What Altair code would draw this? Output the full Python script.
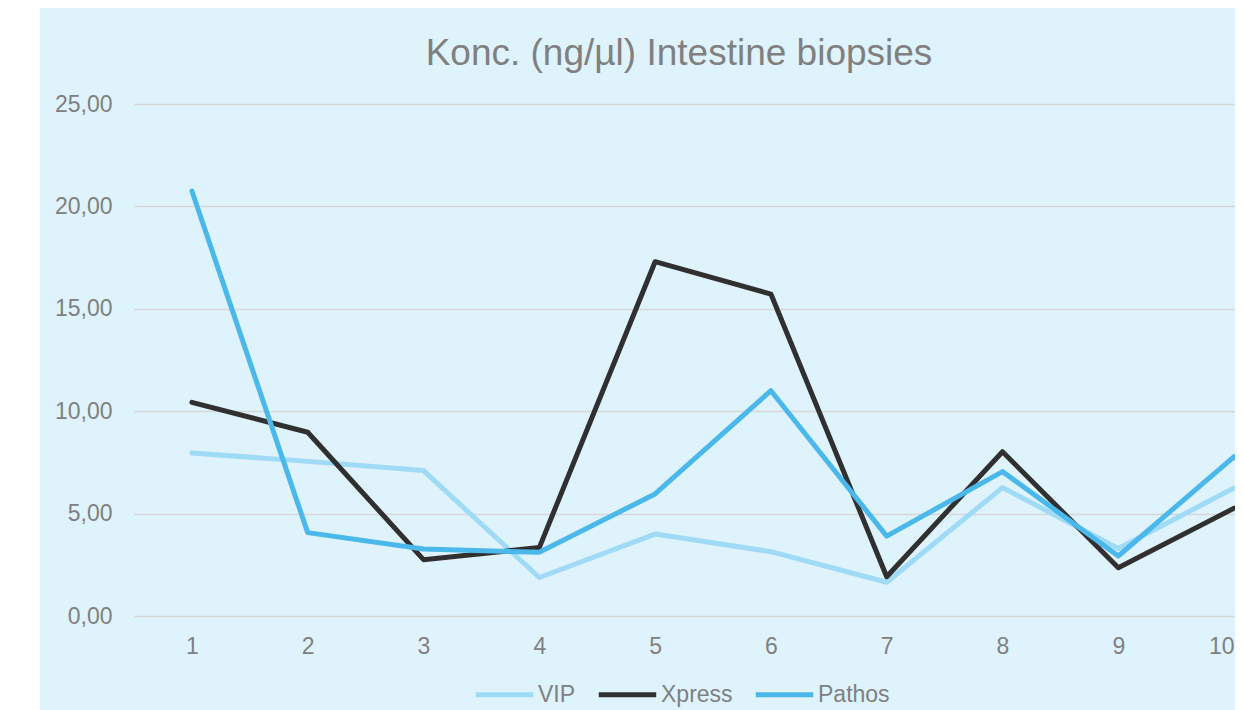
import altair as alt
import pandas as pd

samples = [1, 2, 3, 4, 5, 6, 7, 8, 9, 10]
series_names = ["VIP", "Xpress", "Pathos"]
vip = [7.96, 7.55, 7.10, 1.88, 4.00, 3.14, 1.65, 6.27, 3.30, 6.25]
xpress = [10.43, 8.97, 2.75, 3.34, 17.30, 15.72, 1.92, 8.02, 2.36, 5.26]
pathos = [20.75, 4.07, 3.27, 3.11, 5.96, 11.00, 3.90, 7.05, 2.93, 7.78]
y_ticks = [0, 5, 10, 15, 20, 25]
colors = ["#9fdaf6", "#303030", "#4bb8ec"]

rows = []
for name, vals in zip(series_names, [vip, xpress, pathos]):
    for s, v in zip(samples, vals):
        rows.append({"Sample": s, "Series": name, "Konc": v})
df = pd.DataFrame(rows)

W = 1101
H = 512
PAD_L = 126
PAD_T = 96
SVG_H = 702
PAD_B = SVG_H - PAD_T - H
BG = "#dff3fd"
TXT = "#808080"
FONT = "Liberation Sans"

# white band at the left edge (outside the chart area of the reference)
band = alt.Chart(pd.DataFrame({"k": [0]})).mark_rect(fill="white").encode(
    x=alt.value(-PAD_L), x2=alt.value(-94), y=alt.value(-PAD_T), y2=alt.value(SVG_H - PAD_T)
)

lines = alt.Chart(df).mark_line(strokeWidth=5, strokeCap="round", strokeJoin="round").encode(
    x=alt.X("Sample:Q",
            scale=alt.Scale(domain=[0.5, 0.5 + W / 115.8], nice=False, zero=False),
            axis=alt.Axis(values=samples, format="d", grid=False, domain=False, ticks=False,
                          tickSize=0, labelPadding=19, labelFontSize=23, labelColor=TXT,
                          labelFont=FONT, title=None, labelOverlap=False, labelBound=False,
                          labelFlush=10)),
    y=alt.Y("Konc:Q",
            scale=alt.Scale(domain=[0, 25], nice=False),
            axis=alt.Axis(values=y_ticks, labelExpr="replace(format(datum.value, '.2f'), '.', ',')",
                          grid=True, gridColor="#d7d7d7", gridWidth=1.5, domain=False,
                          ticks=False, tickSize=0, labelPadding=22, labelFontSize=23,
                          labelColor=TXT, labelFont=FONT, title=None)),
    color=alt.Color("Series:N",
                    scale=alt.Scale(domain=series_names, range=colors),
                    sort=series_names,
                    legend=alt.Legend(orient="none", legendX=339, legendY=559,
                                      direction="horizontal", title=None,
                                      symbolType="stroke", symbolSize=3300,
                                      symbolStrokeWidth=5, labelFontSize=23,
                                      labelColor=TXT, labelFont=FONT, labelOffset=2,
                                      columnPadding=12)),
)

chart = alt.layer(band, lines).properties(
    width=W,
    height=H,
    title=alt.TitleParams("Konc. (ng/µl) Intestine biopsies", font=FONT, fontSize=37,
                          fontWeight="normal", color=TXT, anchor="middle", frame="group",
                          baseline="alphabetic", offset=0, dx=-5.5, dy=94),
    padding={"left": PAD_L, "top": PAD_T, "right": 0, "bottom": PAD_B},
    autosize=alt.AutoSizeParams(type="none"),
    background=BG,
).configure_view(stroke=None)

chart.save("out.html", embed_options={"renderer": "svg", "actions": False})
